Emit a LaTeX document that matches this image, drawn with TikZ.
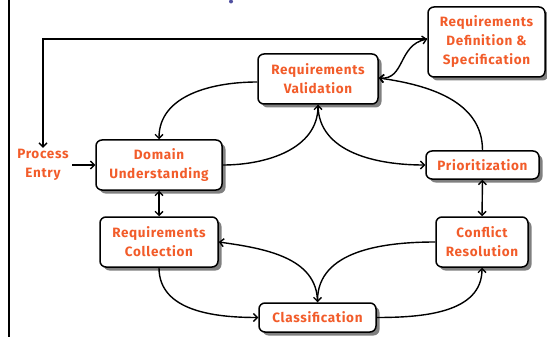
\documentclass[tikz,border=0pt]{standalone}
\usepackage{fontspec}
\setmainfont{Fira Sans}
\newfontfamily\boxfont[LetterSpace=5]{Fira Sans}
\usetikzlibrary{arrows.meta,shadows}
\definecolor{txt}{RGB}{242,92,42}
\definecolor{dotblue}{RGB}{80,80,160}
\tikzset{
  stepbox/.style={draw=black, line width=1.5pt, rounded corners=6pt, fill=white,
    align=center, inner sep=0pt, text=txt,
    font=\boxfont\fontsize{13.5}{19}\selectfont\bfseries,
    drop shadow={shadow xshift=3.5pt, shadow yshift=-3.5pt, fill=black!50, opacity=1}},
  plain/.style={align=center, text=txt, font=\boxfont\fontsize{13.5}{19}\selectfont\bfseries},
  conn/.style={draw=black, line width=1.4pt, -{Straight Barb[length=4pt,width=8pt,line width=1.4pt]}},
  dconn/.style={draw=black, line width=1.4pt, {Straight Barb[length=4pt,width=8pt,line width=1.4pt]}-{Straight Barb[length=4pt,width=8pt,line width=1.4pt]}}
}
\begin{document}
\begin{tikzpicture}[x=1pt,y=-1pt]
\useasboundingbox (0,0) rectangle (547,337);
\draw[line width=1.6pt] (9,0) -- (9,337);
\fill[dotblue] (231,1.5) circle (2);
\node[stepbox, minimum width=117pt, minimum height=70pt] (def) at (486.5,42) {Requirements\\Definition \&\\Specification};
\node[stepbox, minimum width=120pt, minimum height=50pt] (val) at (318,79) {Requirements\\Validation};
\node[stepbox, minimum width=126pt, minimum height=50pt] (dom) at (159,165) {Domain\\Understanding};
\node[stepbox, minimum width=118pt, minimum height=50pt] (col) at (159,242) {Requirements\\Collection};
\node[stepbox, minimum width=117pt, minimum height=29pt] (cls) at (317.5,317.5) {Classification};
\node[stepbox, minimum width=113pt, minimum height=28pt] (pri) at (482.5,165) {Prioritization};
\node[stepbox, minimum width=92pt, minimum height=50pt] (con) at (482,242) {Conflict\\Resolution};
\node[plain] (pe) at (43,165) {Process\\Entry};
% top feedback line
\draw[conn] ([yshift=3pt]def.west) -| ([yshift=-2pt]pe.north);
\draw[dconn] ([yshift=1pt]val.east) .. controls (405,80) and (398,45) .. ([yshift=3pt]def.west);
% loops
\draw[conn] ([yshift=-3pt]val.west) to[out=180,in=90] (dom.north);
\draw[conn] (dom.east) to[out=0,in=-90] (val.south);
\draw[conn] (val.south) to[out=-90,in=180] (pri.west);
\draw[conn] (pri.north) to[out=90,in=-8] ([yshift=1pt]val.east);
\draw[dconn] (pri.south) -- (con.north);
\draw[dconn] (dom.south) -- (col.north);
\draw[conn] (pe.east) -- (dom.west);
\draw[conn] (col.south) to[out=-90,in=180] (cls.west);
\draw[conn] (cls.north) to[out=90,in=-8] (col.east);
\draw[conn] (con.west) to[out=180,in=90] (cls.north);
\draw[conn] (cls.east) to[out=0,in=-90] (con.south);
\end{tikzpicture}
\end{document}
